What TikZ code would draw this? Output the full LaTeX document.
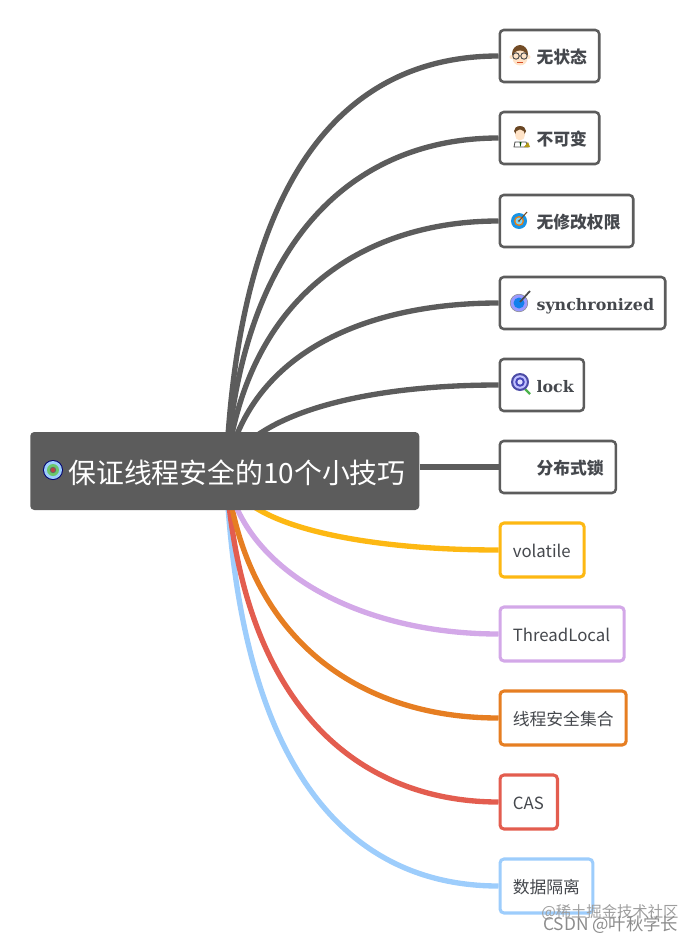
\documentclass[tikz,border=0pt]{standalone}
\usepackage{fontspec}
\setmainfont{Noto Sans CJK SC}
\newfontfamily\serifbold[BoldFont=DejaVu Serif Bold]{DejaVu Serif}
\usetikzlibrary{backgrounds}
\definecolor{gr}{HTML}{5C5C5C}
\definecolor{tx}{HTML}{45484D}
\definecolor{yl}{HTML}{FDB813}
\definecolor{pu}{HTML}{D3A8E8}
\definecolor{og}{HTML}{E67E22}
\definecolor{rd}{HTML}{E35D4F}
\definecolor{bl}{HTML}{9DCDFC}
\tikzset{
  x=0.75pt,y=-0.75pt,
  box/.style={draw=#1,fill=white,rounded corners=3pt,anchor=west,inner xsep=0pt,align=left,
    text height=12pt,text depth=1.3pt,text=tx,font=\fontsize{12.6}{15}\selectfont},
  gbox/.style={box=gr,line width=1.9pt,minimum height=39pt,font=\fontsize{12.6}{15}\selectfont\bfseries},
  cbox/.style={box=#1,line width=2.3pt,minimum height=40.5pt},
  link/.style={line width=4pt,draw=#1},
  root/.style={fill=gr,rounded corners=3pt,text=white,anchor=west,text width=291.75pt,minimum height=58.5pt,
    text height=20pt,text depth=1.8pt,inner xsep=0pt,align=left,font=\fontsize{20.9}{24}\selectfont},
  mark0/.style={font=\fontsize{11.5}{13}\selectfont,text=black!38,anchor=west,inner sep=0pt},
  mark1/.style={font=\fontsize{13}{15}\selectfont,text=black!45,anchor=west,inner sep=0pt},
}
\begin{document}
\begin{tikzpicture}
\useasboundingbox (0,0) rectangle (695,942);
\coordinate (hub) at (226,471);
\node[root] (r) at (30,471) {\hspace*{28.5pt}保证线程安全的10个小技巧};
\node[gbox,text width=74.6pt] (a1) at (498.5,56) {\hspace*{27.6pt}无状态};
\node[gbox,text width=74.6pt] (a2) at (498.5,138) {\hspace*{27.6pt}不可变};
\node[gbox,text width=100.1pt] (a3) at (498.5,221) {\hspace*{27.6pt}无修改权限};
\node[gbox,text width=124.1pt] (a4) at (498.5,303) {\hspace*{27.6pt}{\serifbold\bfseries\fontsize{11.9}{15}\selectfont synchronized}};
\node[gbox,text width=63.1pt] (a5) at (498.5,385) {\hspace*{27.6pt}{\serifbold\bfseries\fontsize{11.9}{15}\selectfont lock}};
\node[gbox,text width=87.1pt] (a6) at (498.5,467) {\hspace*{27.6pt}分布式锁};
\node[cbox=yl,text width=63.1pt] (b1) at (498.5,550) {\hspace*{9.6pt}volatile};
\node[cbox=pu,text width=93.1pt] (b2) at (498.5,634) {\hspace*{9.6pt}ThreadLocal};
\node[cbox=og,text width=94.6pt] (b3) at (498.5,718) {\hspace*{9.6pt}线程安全集合};
\node[cbox=rd,text width=43.1pt] (b4) at (498.5,802) {\hspace*{9.6pt}CAS};
\node[cbox=bl,text width=69.6pt] (b5) at (498.5,886) {\hspace*{9.6pt}数据隔离};
\begin{pgfonlayer}{background}
\draw[link=bl] (hub) .. controls (240,800) and (370,886) .. (b5.west);
\draw[link=rd] (hub) .. controls (242,720) and (370,802) .. (b4.west);
\draw[link=og] (hub) .. controls (245,640) and (360,718) .. (b3.west);
\draw[link=pu] (hub) .. controls (240,570) and (360,634) .. (b2.west);
\draw[link=yl] (hub) .. controls (235,525) and (360,550) .. (b1.west);
\draw[link=gr] (hub) .. controls (240,140) and (370,56) .. (a1.west);
\draw[link=gr] (hub) .. controls (243,220) and (370,138) .. (a2.west);
\draw[link=gr] (hub) .. controls (247,290) and (370,221) .. (a3.west);
\draw[link=gr] (hub) .. controls (250,350) and (370,303) .. (a4.west);
\draw[link=gr] (hub) .. controls (250,415) and (360,385) .. (a5.west);
\draw[link=gr] (r.east |- a6.west) -- (a6.west);
\end{pgfonlayer}
% root icon
\fill[black!55!blue] (53,470) circle (10);
\fill[bl] (53,470) circle (9);
\fill[green!45!gray!80!white] (53,470) circle (6);
\fill[black!60] (53,470) circle (3.2);
\fill[red!50!gray] (53,470) circle (2.1);
% face icon
\fill[brown!60!black] (520,54) ellipse (8 and 9);
\fill[orange!22!white] (520,58) ellipse (7.5 and 7.5);
\fill[orange!22!white] (511.5,57) circle (2);
\fill[orange!22!white] (528.5,57) circle (2);
\draw[black!70,line width=.7pt] (516,56) circle (3.2) (524,56) circle (3.2) (519,56) -- (521,56);
\draw[red!40!brown,line width=.6pt] (517,62) -- (523,62);
% man icon
\fill[brown!55!black] (520,131) ellipse (6 and 5);
\fill[orange!22!white] (520,135) ellipse (5 and 5.5);
\draw[black!70,fill=white,line width=.6pt] (514,147) -- (515,142) -- (526,142) -- (528,147) -- cycle;
\fill[green!30!black] (519.5,142) -- (521.5,142) -- (520.5,147) -- cycle;
\fill[brown!50!yellow!80!black] (524,147) -- (530,147) -- (528,142) -- cycle;
% target icon 3
\fill[blue!40!cyan!80!gray] (519,221) circle (8);
\fill[orange!70!brown] (519,221) circle (5);
\fill[cyan!50!white] (519,221) circle (3.5);
\fill[black!55] (519,221) circle (1.4);
\draw[brown!60!black,line width=.8pt] (519,221) -- (527,212);
% target icon 4
\draw[black!45,fill=blue!40!white,line width=.4pt] (519,303) circle (8.8);
\fill[blue!50!cyan!85!gray] (519,303) circle (5.5);
\draw[black!70,line width=1.3pt] (520,302) -- (530,291);
% magnifier icon 5
\draw[green!40!gray,line width=1.6pt] (525,389) -- (530,394);
\fill[blue!50!black!70] (520,382) circle (9);
\fill[blue!25!white] (520,382) circle (6.8);
\fill[blue!45!gray] (520,382) circle (4.8);
\fill[blue!12!white] (520,382) circle (2.6);
% watermark
\node[mark0] (w0) at (541,912) {@稀土掘金技术社区};
\node[mark1] (w1) at (543,925) {CSDN @叶秋学长};
\end{tikzpicture}
\end{document}
